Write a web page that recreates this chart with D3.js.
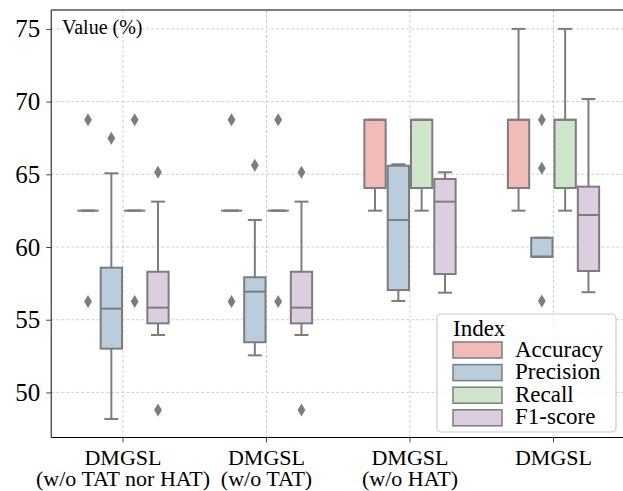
<!DOCTYPE html>
<html>
<head>
<meta charset="utf-8">
<script src="https://cdnjs.cloudflare.com/ajax/libs/d3/7.8.5/d3.min.js"></script>
<style>
  body { margin: 0; background: #fff; }
</style>
</head>
<body>
<div id="root"></div>
<script>
// categories and hue levels
const groups = [["DMGSL", "(w/o TAT nor HAT)"], ["DMGSL", "(w/o TAT)"], ["DMGSL", "(w/o HAT)"], ["DMGSL"]];
const metrics = ["Accuracy", "Precision", "Recall", "F1-score"];
const colors = ["#f1bcb8", "#b9cddd", "#cfe6ca", "#dccee1"];

// box stats per group: [lower whisker, q1, median, q3, upper whisker]
const accuracyStats = [[62.5, 62.5, 62.5, 62.5, 62.5], [62.5, 62.5, 62.5, 62.5, 62.5], [62.5, 64.06, 68.75, 68.75, 68.75], [62.5, 64.06, 68.75, 68.75, 75]];
const precisionStats = [[48.17, 53.01, 55.76, 58.58, 65.07], [52.55, 53.45, 56.93, 57.92, 61.86], [56.29, 57.04, 61.86, 65.59, 65.69], [59.33, 59.33, 59.33, 60.64, 60.64]];
const recallStats = [[62.5, 62.5, 62.5, 62.5, 62.5], [62.5, 62.5, 62.5, 62.5, 62.5], [62.5, 64.06, 68.75, 68.75, 68.75], [62.5, 64.06, 68.75, 68.75, 75]];
const f1Stats = [[53.95, 54.75, 55.83, 58.30, 63.12], [53.95, 54.75, 55.83, 58.30, 63.12], [56.86, 58.14, 63.12, 64.68, 65.14], [56.89, 58.35, 62.2, 64.15, 70.18]];

// outliers per group
const accuracyOut = [[68.75, 56.25], [68.75, 56.25], [], []];
const precisionOut = [[67.48], [65.62], [], [68.75, 65.42, 56.29]];
const recallOut = [[68.75, 56.25], [68.75, 56.25], [], []];
const f1Out = [[65.14, 48.79], [65.14, 48.79], [], []];

const yTicks = [50, 55, 60, 65, 70, 75];

const allStats = [accuracyStats, precisionStats, recallStats, f1Stats];
const allOut = [accuracyOut, precisionOut, recallOut, f1Out];

const W = 623, H = 491;
const margin = { top: 10, left: 51.25, bottom: 53.5 };
const gray = "#7d7d7d";
const serif = '"Liberation Serif"';

const svg = d3.select("#root").append("svg")
  .attr("width", W).attr("height", H);

const x = d3.scaleLinear().domain([-0.5, 3.5]).range([margin.left, margin.left + 574]);
const y = d3.scaleLinear().domain([46.9, 76.3]).range([H - margin.bottom, margin.top]);

const slot = 0.1625;
const boxW = x(slot) - x(0);
const capW = 14;

// grid
const grid = svg.append("g");
grid.selectAll(".hg").data(yTicks).enter().append("line")
  .attr("x1", x(-0.5)).attr("x2", W)
  .attr("y1", d => y(d)).attr("y2", d => y(d))
  .attr("stroke", "#c4c4c4").attr("stroke-width", 0.8).attr("stroke-dasharray", "3,2");
grid.selectAll(".vg").data(groups).enter().append("line")
  .attr("x1", (d, i) => x(i)).attr("x2", (d, i) => x(i))
  .attr("y1", y.range()[1]).attr("y2", y.range()[0])
  .attr("stroke", "#c4c4c4").attr("stroke-width", 0.8).attr("stroke-dasharray", "3,2");

// boxes
const boxes = [];
allStats.forEach((st, j) => {
  st.forEach((s, i) => {
    boxes.push({ i: i, j: j, s: s, out: allOut[j][i], cx: x(i + (j - 1.5) * slot) });
  });
});

const g = svg.append("g");
g.selectAll("rect.box").data(boxes).enter().append("rect")
  .attr("x", d => d.cx - boxW / 2 + 1)
  .attr("width", boxW - 2)
  .attr("y", d => y(d.s[3]))
  .attr("height", d => y(d.s[1]) - y(d.s[3]))
  .attr("fill", d => colors[d.j])
  .attr("stroke", gray).attr("stroke-width", 2);

// whiskers
g.selectAll("line.wu").data(boxes).enter().append("line")
  .attr("x1", d => d.cx).attr("x2", d => d.cx)
  .attr("y1", d => y(d.s[3])).attr("y2", d => y(d.s[4]))
  .attr("stroke", gray).attr("stroke-width", 2);
g.selectAll("line.wl").data(boxes).enter().append("line")
  .attr("x1", d => d.cx).attr("x2", d => d.cx)
  .attr("y1", d => y(d.s[1])).attr("y2", d => y(d.s[0]))
  .attr("stroke", gray).attr("stroke-width", 2);
// caps
[0, 4].forEach(k => {
  g.selectAll("line.cap" + k).data(boxes).enter().append("line")
    .attr("x1", d => d.cx - capW / 2).attr("x2", d => d.cx + capW / 2)
    .attr("y1", d => y(d.s[k])).attr("y2", d => y(d.s[k]))
    .attr("stroke", gray).attr("stroke-width", 2);
});
// medians
g.selectAll("line.med").data(boxes).enter().append("line")
  .attr("x1", d => d.cx - boxW / 2 + 1).attr("x2", d => d.cx + boxW / 2 - 1)
  .attr("y1", d => y(d.s[2])).attr("y2", d => y(d.s[2]))
  .attr("stroke", gray).attr("stroke-width", 2);

// outliers (thin diamonds)
const pts = [];
boxes.forEach(b => b.out.forEach(v => pts.push({ cx: b.cx, v: v })));
g.selectAll("path.out").data(pts).enter().append("path")
  .attr("d", d => {
    const cy = y(d.v);
    return `M${d.cx},${cy - 6.5}L${d.cx + 3.9},${cy}L${d.cx},${cy + 6.5}L${d.cx - 3.9},${cy}Z`;
  })
  .attr("fill", gray);

// spines
const x0 = x(-0.5), yb = y.range()[0], yt = y.range()[1];
svg.append("line").attr("x1", x0).attr("x2", W).attr("y1", yt).attr("y2", yt)
  .attr("stroke", "#000").attr("stroke-width", 1.2);
svg.append("line").attr("x1", x0).attr("x2", W).attr("y1", yb).attr("y2", yb)
  .attr("stroke", "#000").attr("stroke-width", 1.2);
svg.append("line").attr("x1", x0).attr("x2", x0).attr("y1", yt).attr("y2", yb)
  .attr("stroke", "#333").attr("stroke-width", 1.2);

// y axis
const yAxis = svg.append("g")
  .attr("transform", `translate(${x0},0)`)
  .call(d3.axisLeft(y).tickValues(yTicks).tickSize(5).tickPadding(6));
yAxis.select(".domain").remove();
yAxis.selectAll(".tick line").attr("stroke", "#444");
yAxis.selectAll(".tick text").attr("font-size", 25).attr("fill", "#000")
  .style("font-family", serif);

// x axis
const xt = svg.append("g");
xt.selectAll("line").data(groups).enter().append("line")
  .attr("x1", (d, i) => x(i)).attr("x2", (d, i) => x(i))
  .attr("y1", yb).attr("y2", yb + 5)
  .attr("stroke", "#444");
groups.forEach((lines, i) => {
  lines.forEach((t, k) => {
    xt.append("text")
      .attr("x", x(i)).attr("y", 465 + k * 21)
      .attr("text-anchor", "middle").attr("font-size", 22)
      .style("font-family", serif)
      .text(t);
  });
});

// label
svg.append("text").attr("x", 62).attr("y", 34).attr("font-size", 20)
  .style("font-family", serif).text("Value (%)");

// legend
const lg = svg.append("g");
lg.append("rect").attr("x", 437).attr("y", 314).attr("width", 179).attr("height", 118)
  .attr("rx", 4).attr("fill", "#fff").attr("fill-opacity", 0.8)
  .attr("stroke", "#cccccc").attr("stroke-width", 1.2);
lg.append("text").attr("x", 453).attr("y", 336).attr("font-size", 23)
  .style("font-family", serif).text("Index");
const rows = lg.selectAll("g.row").data(metrics).enter().append("g")
  .attr("transform", (d, k) => `translate(453,${342 + k * 22.6})`);
rows.append("rect").attr("width", 49).attr("height", 16)
  .attr("fill", (d, k) => colors[k]).attr("stroke", gray).attr("stroke-width", 1.5);
rows.append("text").attr("x", 62).attr("y", 14.5).attr("font-size", 23)
  .style("font-family", serif).text(d => d);
</script>
</body>
</html>
